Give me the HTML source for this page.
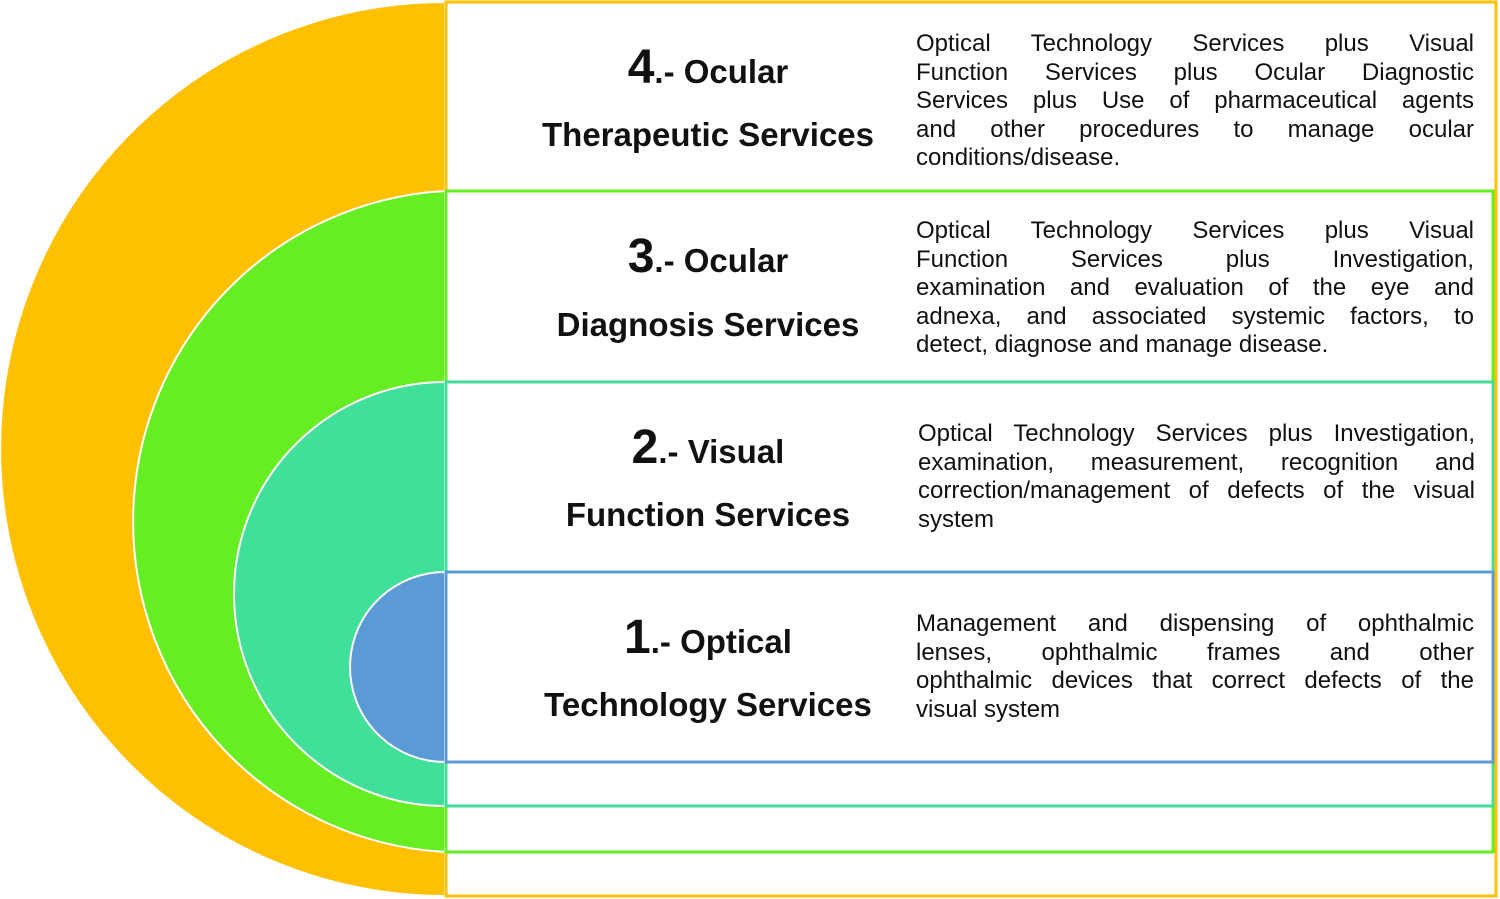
<!DOCTYPE html>
<html><head><style>
body{margin:0;width:1500px;height:899px;background:#fff;position:relative;overflow:hidden;font-family:"Liberation Sans",Arial,sans-serif}
svg{position:absolute;left:0;top:0}
.t{position:absolute;left:508px;width:400px;text-align:center;font-weight:bold;font-size:33px;color:#111;line-height:1}
.t b{font-size:48px}
.d{position:absolute;left:916px;width:558px;font-size:24px;color:#111;line-height:28.5px}
.d div{text-align:justify;text-align-last:justify;white-space:nowrap}
.d div.l{text-align-last:left}
</style></head><body>
<svg width="1500" height="899">
<path d="M445,2 A445,447 0 0 0 445,896 Z" fill="#FFC000" stroke="#fff" stroke-width="2"/>
<path d="M445,191 A330,331 0 0 0 445,852 Z" fill="#66EE22" stroke="#fff" stroke-width="2"/>
<path d="M445,382 A211,212 0 0 0 445,806 Z" fill="#40E09A" stroke="#fff" stroke-width="2"/>
<path d="M445,572 A95,95 0 0 0 445,762 Z" fill="#5B9BD5" stroke="#fff" stroke-width="2"/>
<rect x="446" y="2" width="1050" height="894" fill="#fff" stroke="#FFC000" stroke-width="3"/>
<rect x="446" y="191" width="1047" height="661" fill="#fff" stroke="#66EE22" stroke-width="3"/>
<rect x="446" y="382" width="1047" height="424" fill="#fff" stroke="#40E09A" stroke-width="3"/>
<rect x="446" y="572" width="1047" height="190" fill="#fff" stroke="#5B9BD5" stroke-width="3"/>
</svg>
<div class="t" style="top:44px"><b>4</b>.- Ocular</div>
<div class="t" style="top:118px">Therapeutic Services</div>
<div class="t" style="top:233px"><b>3</b>.- Ocular</div>
<div class="t" style="top:308px">Diagnosis Services</div>
<div class="t" style="top:424px"><b>2</b>.- Visual</div>
<div class="t" style="top:498px">Function Services</div>
<div class="t" style="top:614px"><b>1</b>.- Optical</div>
<div class="t" style="top:688px">Technology Services</div>
<div class="d" style="top:30px"><div>Optical Technology Services plus Visual</div><div>Function Services plus Ocular Diagnostic</div><div>Services plus Use of pharmaceutical agents</div><div>and other procedures to manage ocular</div><div class="l">conditions/disease.</div></div>
<div class="d" style="top:217px"><div>Optical Technology Services plus Visual</div><div>Function Services plus Investigation,</div><div>examination and evaluation of the eye and</div><div>adnexa, and associated systemic factors, to</div><div class="l">detect, diagnose and manage disease.</div></div>
<div class="d" style="top:420px;left:918px;width:557px"><div>Optical Technology Services plus Investigation,</div><div>examination, measurement, recognition and</div><div>correction/management of defects of the visual</div><div class="l">system</div></div>
<div class="d" style="top:610px"><div>Management and dispensing of ophthalmic</div><div>lenses, ophthalmic frames and other</div><div>ophthalmic devices that correct defects of the</div><div class="l">visual system</div></div>
</body></html>
